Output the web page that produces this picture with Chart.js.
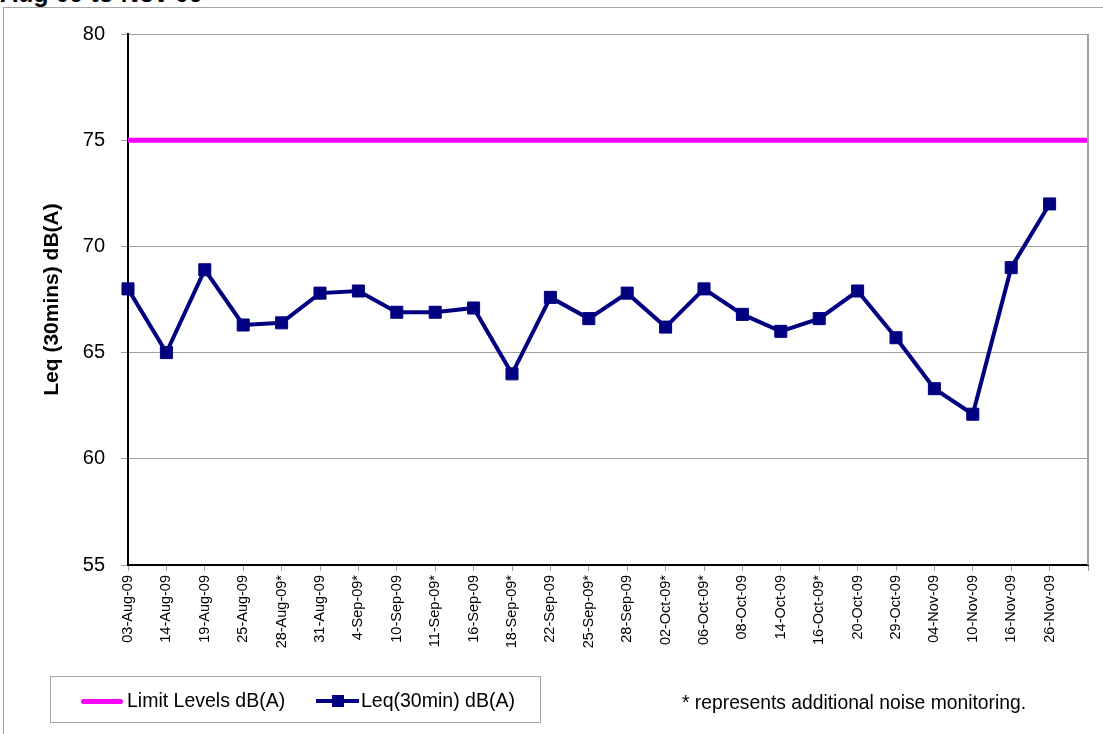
<!DOCTYPE html>
<html>
<head>
<meta charset="utf-8">
<script src="https://cdn.jsdelivr.net/npm/chart.js@4.4.1/dist/chart.umd.min.js"></script>
<style>
  body { margin: 0; background: #fff; font-family: Arial, "Liberation Sans", sans-serif; }
  #wrap { position: relative; width: 1103px; height: 734px; overflow: hidden; }
  #frame { position: absolute; left: 3px; top: 7px; width: 1200px; height: 800px;
           border-left: 1px solid #a6a6a6; border-top: 1px solid #a6a6a6; }
  #title { position: absolute; left: 0; top: -19px; font-weight: bold; font-size: 25px; line-height: 25px; white-space: nowrap; }
  canvas { position: absolute; left: 0; top: 0; }
  #legend { position: absolute; left: 50px; top: 676px; width: 489px; height: 45px;
            border: 1px solid #a6a6a6; background: #fff; font-size: 19.5px; }
  .item { position: absolute; top: 12px; line-height: 22px; white-space: nowrap; }
  #note { position: absolute; left: 682px; top: 692px; font-size: 19.3px; line-height: 22px; white-space: nowrap; }
</style>
</head>
<body>
<div id="wrap">
  <div id="frame"></div>
  <div id="title">Aug 09 to Nov 09</div>
  <canvas id="chart" width="1103" height="734"></canvas>
  <div id="legend">
    <div class="item" style="left:30px;">
      <span style="position:absolute;left:0;top:10px;width:42px;border-top:5px solid #ff00ff;border-radius:3px;"></span>
      <span style="position:absolute;left:46px;top:0;">Limit Levels dB(A)</span>
    </div>
    <div class="item" style="left:265px;">
      <span style="position:absolute;left:0;top:10px;width:43px;border-top:4px solid #000080;"></span>
      <span style="position:absolute;left:16px;top:6px;width:12px;height:12px;background:#000080;"></span>
      <span style="position:absolute;left:45px;top:0;">Leq(30min) dB(A)</span>
    </div>
  </div>
  <div id="note">* represents additional noise monitoring.</div>
</div>
<script>
const dates = [
  '03-Aug-09', '14-Aug-09', '19-Aug-09', '25-Aug-09', '28-Aug-09*', '31-Aug-09',
  '4-Sep-09*', '10-Sep-09', '11-Sep-09*', '16-Sep-09', '18-Sep-09*', '22-Sep-09',
  '25-Sep-09*', '28-Sep-09', '02-Oct-09*', '06-Oct-09*', '08-Oct-09', '14-Oct-09',
  '16-Oct-09*', '20-Oct-09', '29-Oct-09', '04-Nov-09', '10-Nov-09', '16-Nov-09',
  '26-Nov-09', ''
];
const leqValues = [
  68.0, 65.0, 68.9, 66.3, 66.4, 67.8,
  67.9, 66.9, 66.9, 67.1, 64.0, 67.6,
  66.6, 67.8, 66.2, 68.0, 66.8, 66.0,
  66.6, 67.9, 65.7, 63.3, 62.1, 69.0,
  72.0, null
];
const limitValues = [
  75, 75, 75, 75, 75, 75, 75, 75, 75, 75, 75, 75, 75,
  75, 75, 75, 75, 75, 75, 75, 75, 75, 75, 75, 75, 75
];
const yTicks = [55, 60, 65, 70, 75, 80];

/* ── right border of plot area ─────────────────────────── */
const plotBorder = {
  id: 'plotBorder',
  afterDraw(chart) {
    const { ctx, chartArea: a } = chart;
    ctx.save();
    ctx.strokeStyle = '#a0a0a0';
    ctx.lineWidth = 2;
    ctx.beginPath();
    ctx.moveTo(a.right, a.top);
    ctx.lineTo(a.right, a.bottom);
    ctx.stroke();
    ctx.restore();
  }
};

new Chart(document.getElementById('chart'), {
  type: 'line',
  data: {
    labels: dates,
    datasets: [
      {
        label: 'Limit Levels dB(A)',
        data: limitValues,
        borderColor: '#ff00ff',
        borderWidth: 5,
        pointRadius: 0,
        tension: 0
      },
      {
        label: 'Leq(30min) dB(A)',
        data: leqValues,
        borderColor: '#000080',
        backgroundColor: '#000080',
        borderWidth: 4,
        pointStyle: 'rect',
        pointRadius: 8.5,
        pointBorderWidth: 1,
        tension: 0
      }
    ]
  },
  options: {
    responsive: false,
    animation: false,
    layout: { padding: { left: 0, top: 34, right: 15, bottom: 0 } },
    plugins: { legend: { display: false }, tooltip: { enabled: false } },
    scales: {
      x: {
        offset: false,
        afterFit: s => { s.height = 169; s.paddingLeft = 0; s.paddingRight = 0; },
        grid: { drawOnChartArea: false, drawTicks: true, tickLength: 6, color: '#a0a0a0' },
        border: { color: '#000', width: 2 },
        ticks: {
          autoSkip: false, maxRotation: 90, minRotation: 90, padding: 4,
          color: '#000', font: { family: 'Arial', size: 14.5 }
        }
      },
      y: {
        min: 55, max: 80,
        afterFit: s => { s.width = 128; s.paddingTop = 0; s.paddingBottom = 0; },
        afterBuildTicks: s => { s.ticks = yTicks.map(v => ({ value: v })); },
        grid: { color: '#a0a0a0', lineWidth: 1, tickLength: 7, tickColor: '#a0a0a0' },
        border: { color: '#000', width: 2 },
        ticks: { padding: 16, color: '#000', font: { family: 'Arial', size: 20 } },
        title: {
          display: true, text: 'Leq (30mins) dB(A)', color: '#000',
          font: { family: 'Arial', size: 21, weight: 'bold' },
          padding: { top: 40, bottom: 0 }
        }
      }
    }
  },
  plugins: [plotBorder]
});
</script>
</body>
</html>
